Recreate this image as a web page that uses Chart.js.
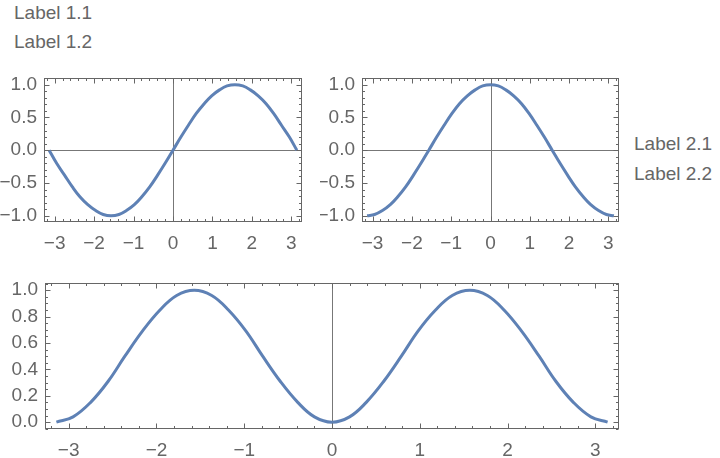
<!DOCTYPE html>
<html>
<head>
<meta charset="utf-8">
<script src="https://cdn.jsdelivr.net/npm/chart.js@4.4.1/dist/chart.umd.min.js"></script>
<style>
  body { margin: 0; background: #fff; width: 720px; height: 458px; position: relative; overflow: hidden; }
  .lbl { position: absolute; font: 19px "Liberation Sans", Arial, sans-serif; line-height: 19px; color: #666; white-space: nowrap; }
  canvas { position: absolute; }
</style>
</head>
<body>
<div class="lbl" style="left:14px; top:3px;">Label 1.1</div>
<div class="lbl" style="left:14px; top:32px;">Label 1.2</div>
<div class="lbl" style="left:634px; top:134px;">Label 2.1</div>
<div class="lbl" style="left:634px; top:164px;">Label 2.2</div>

<canvas id="plot1" style="left:0; top:60px;" width="320" height="200"></canvas>
<canvas id="plot2" style="left:320px; top:60px;" width="320" height="200"></canvas>
<canvas id="plot3" style="left:0; top:265px;" width="640" height="193"></canvas>

<script>
// sample positions along x (-pi .. pi)
const xVals = [-3.14, -2.95, -2.75, -2.55, -2.36, -2.16, -1.96, -1.77, -1.57, -1.37, -1.18, -0.98, -0.79, -0.59, -0.39, -0.20,
  0, 0.20, 0.39, 0.59, 0.79, 0.98, 1.18, 1.37, 1.57, 1.77, 1.96, 2.16, 2.36, 2.55, 2.75, 2.95, 3.14];

// top-left plot
const sinVals = [0, -0.20, -0.38, -0.56, -0.71, -0.83, -0.92, -0.98, -1.00, -0.98, -0.92, -0.83, -0.71, -0.56, -0.38, -0.20,
  0, 0.20, 0.38, 0.56, 0.71, 0.83, 0.92, 0.98, 1.00, 0.98, 0.92, 0.83, 0.71, 0.56, 0.38, 0.20, 0];

// top-right plot
const cosVals = [-1.00, -0.98, -0.92, -0.83, -0.71, -0.56, -0.38, -0.20, 0, 0.20, 0.38, 0.56, 0.71, 0.83, 0.92, 0.98,
  1.00, 0.98, 0.92, 0.83, 0.71, 0.56, 0.38, 0.20, 0, -0.20, -0.38, -0.56, -0.71, -0.83, -0.92, -0.98, -1.00];

// bottom plot
const sqVals = [0, 0.04, 0.15, 0.31, 0.50, 0.69, 0.85, 0.96, 1.00, 0.96, 0.85, 0.69, 0.50, 0.31, 0.15, 0.04,
  0, 0.04, 0.15, 0.31, 0.50, 0.69, 0.85, 0.96, 1.00, 0.96, 0.85, 0.69, 0.50, 0.31, 0.15, 0.04, 0];

// tick labels
const xTicks = [-3, -2, -1, 0, 1, 2, 3];
const yTicksTop = [-1.0, -0.5, 0.0, 0.5, 1.0];
const yTicksBottom = [0.0, 0.2, 0.4, 0.6, 0.8, 1.0];

Chart.defaults.font.family = '"Liberation Sans", Arial, sans-serif';
Chart.defaults.font.size = 19;
Chart.defaults.color = '#666';

const fmtNum = (v, d) => (v < 0 ? '\u2212' : '') + Math.abs(v).toFixed(d);

// frame, inward ticks and zero axes, Mathematica style
const framePlugin = {
  id: 'frame',
  beforeDatasetsDraw(chart, args, opts) {
    const { ctx, chartArea: a, scales: { x, y } } = chart;
    ctx.save();
    ctx.strokeStyle = '#777';
    ctx.lineWidth = 1;
    ctx.beginPath();
    const px = Math.round(x.getPixelForValue(0)) + 0.5;
    ctx.moveTo(px, a.top); ctx.lineTo(px, a.bottom);
    if (opts.hAxis) {
      const py = Math.round(y.getPixelForValue(0)) + 0.5;
      ctx.moveTo(a.left, py); ctx.lineTo(a.right, py);
    }
    ctx.stroke();
    ctx.restore();
  },
  afterDraw(chart, args, opts) {
    const { ctx, chartArea: a, scales: { x, y } } = chart;
    const L = Math.round(a.left) + 0.5, R = Math.round(a.right) - 0.5;
    const T = Math.round(a.top) + 0.5, B = Math.round(a.bottom) - 0.5;
    ctx.save();
    ctx.strokeStyle = '#666';
    ctx.lineWidth = 1;
    ctx.strokeRect(L, T, R - L, B - T);
    ctx.beginPath();
    const nx = Math.round((x.max - x.min) / opts.xMinor);
    for (let i = -nx; i <= nx; i++) {
      const v = i * opts.xMinor;
      if (v < x.min || v > x.max) continue;
      const major = Math.abs(v / opts.xMajor - Math.round(v / opts.xMajor)) < 1e-6;
      const len = major ? 5 : 2.5;
      const p = Math.round(x.getPixelForValue(v)) + 0.5;
      ctx.moveTo(p, B); ctx.lineTo(p, B - len);
      ctx.moveTo(p, T); ctx.lineTo(p, T + len);
    }
    const ny = Math.round((y.max - y.min) / opts.yMinor) + 2;
    for (let i = -ny; i <= ny; i++) {
      const v = i * opts.yMinor;
      if (v < y.min || v > y.max) continue;
      const major = Math.abs(v / opts.yMajor - Math.round(v / opts.yMajor)) < 1e-6;
      const len = major ? 5 : 2.5;
      const p = Math.round(y.getPixelForValue(v)) + 0.5;
      ctx.moveTo(L, p); ctx.lineTo(L + len, p);
      ctx.moveTo(R, p); ctx.lineTo(R - len, p);
    }
    ctx.stroke();
    ctx.restore();
  }
};

function makePlot(id, yVals, cfg) {
  new Chart(document.getElementById(id), {
    type: 'line',
    data: {
      datasets: [{
        data: xVals.map((xv, i) => ({ x: xv, y: yVals[i] })),
        borderColor: '#5E81B5',
        borderWidth: 3,
        pointRadius: 0,
        tension: 0.4,
        fill: false
      }]
    },
    options: {
      responsive: false,
      animation: false,
      layout: { padding: { top: cfg.padTop, right: cfg.padRight, left: 0, bottom: 0 } },
      plugins: {
        legend: { display: false },
        tooltip: { enabled: false },
        frame: { hAxis: cfg.hAxis, xMinor: 0.2, xMajor: 1, yMinor: cfg.yMinor, yMajor: cfg.yMajor }
      },
      scales: {
        x: {
          type: 'linear',
          min: -3.27, max: 3.27,
          afterBuildTicks: s => { s.ticks = xTicks.map(v => ({ value: v })); },
          afterFit: s => { s.height = cfg.xAxisH; },
          grid: { display: false, drawTicks: false },
          border: { display: false },
          ticks: { padding: 10, maxRotation: 0, autoSkip: false, callback: v => fmtNum(v, 0) }
        },
        y: {
          min: cfg.yMin, max: cfg.yMax,
          afterBuildTicks: s => { s.ticks = cfg.yTicks.map(v => ({ value: v })); },
          afterFit: s => { s.width = cfg.yAxisW; },
          grid: { display: false, drawTicks: false },
          border: { display: false },
          ticks: { padding: 7, autoSkip: false, callback: v => fmtNum(v, 1) }
        }
      }
    },
    plugins: [framePlugin]
  });
}

makePlot('plot1', sinVals, { padTop: 17, padRight: 18, xAxisH: 38, yAxisW: 44,
  yMin: -1.095, yMax: 1.095, yTicks: yTicksTop, yMinor: 0.1, yMajor: 0.5, hAxis: true });
makePlot('plot2', cosVals, { padTop: 17, padRight: 21, xAxisH: 38, yAxisW: 42,
  yMin: -1.095, yMax: 1.095, yTicks: yTicksTop, yMinor: 0.1, yMajor: 0.5, hAxis: true });
makePlot('plot3', sqVals, { padTop: 18, padRight: 21, xAxisH: 29, yAxisW: 45,
  yMin: -0.052, yMax: 1.052, yTicks: yTicksBottom, yMinor: 0.05, yMajor: 0.2, hAxis: false });
</script>
</body>
</html>
